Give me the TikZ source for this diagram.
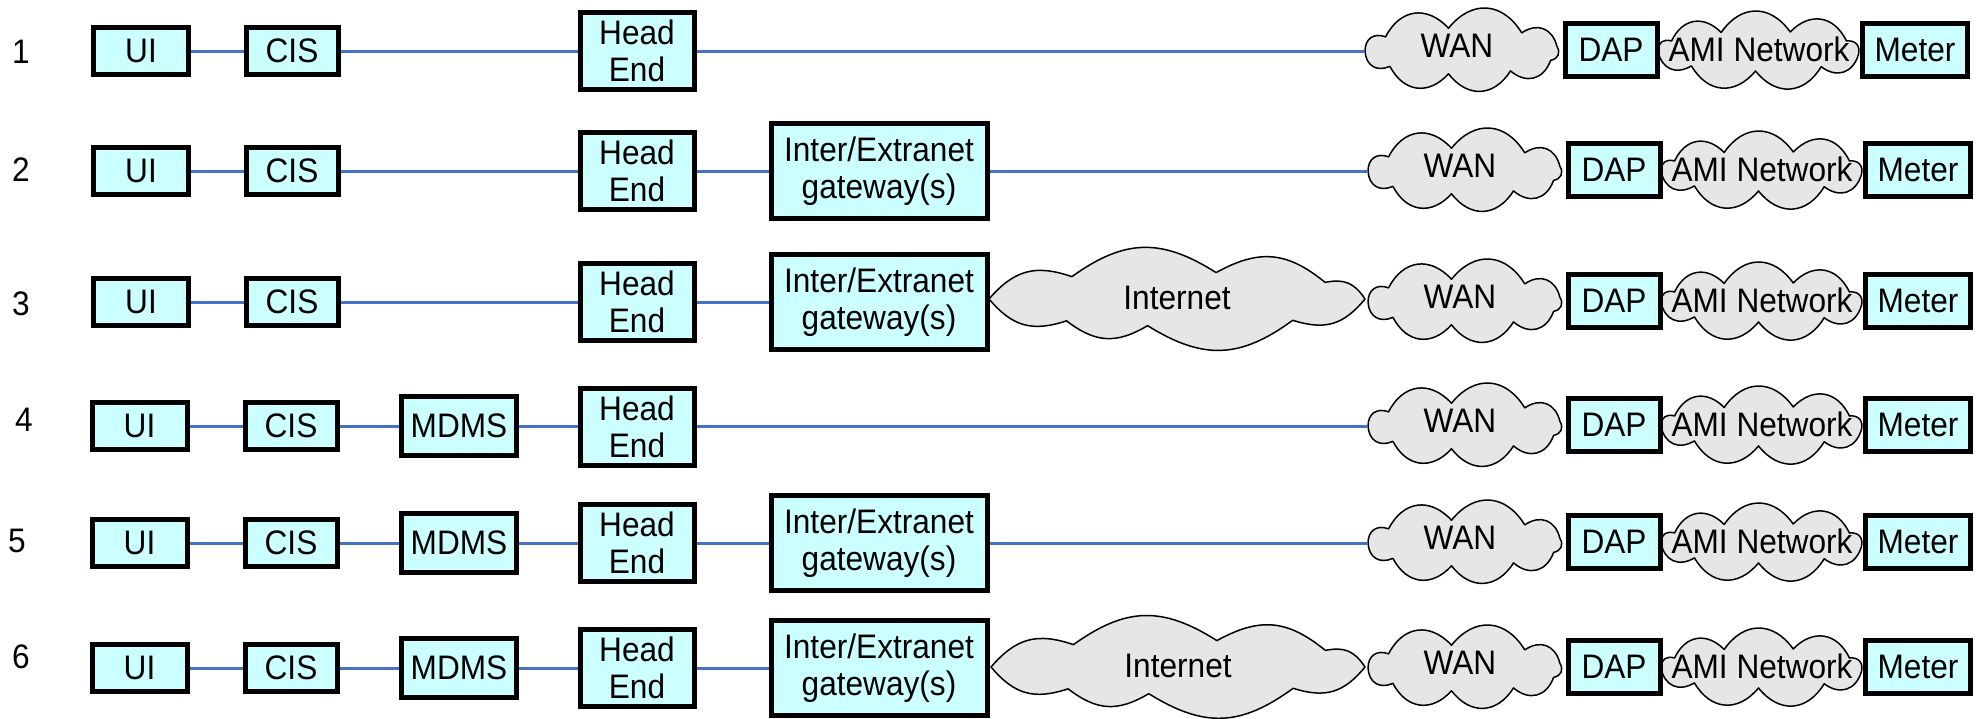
\documentclass[tikz,border=0pt]{standalone}
\usepackage{fontspec}
\setmainfont{Liberation Sans}[FakeStretch=0.93]
\usetikzlibrary{calc}
\definecolor{boxfill}{RGB}{204,255,255}
\definecolor{cloudfill}{RGB}{230,230,230}
\definecolor{linkblue}{RGB}{70,114,196}

% A cloud made of outward lobes between points on an ellipse.
% #1 name prefix, #2/#3 centre, #4/#5 half axes, #6 closed angle list,
% #7 number of lobes, #8 control distance (fraction of chord), #9 control angle
\newcommand\puffcloud[9]{%
  \foreach \t [count=\i] in {#6}
    \coordinate (#1-\i) at ({#2+#4*cos(\t)},{#3+#5*sin(\t)});
  \filldraw[cloudline] (#1-1)
    \foreach \i [count=\j from 2] in {1,...,#7} {
      .. controls ($(#1-\i)!#8!-#9:(#1-\j)$) and ($(#1-\j)!#8!#9:(#1-\i)$) .. (#1-\j)
    } -- cycle;
}

\begin{document}
\begin{tikzpicture}[x=1pt,y=1pt,
  every node/.style={font=\fontsize{34}{37}\selectfont},
  blk/.style={draw=black, line width=5pt, fill=boxfill, inner sep=0pt, align=center},
  uibox/.style={blk, minimum width=95pt, minimum height=47pt},
  cisbox/.style={blk, minimum width=92pt, minimum height=47pt},
  mdmsbox/.style={blk, minimum width=115pt, minimum height=59pt},
  hebox/.style={blk, minimum width=114pt, minimum height=77pt},
  gwbox/.style={blk, minimum width=216pt, minimum height=95pt},
  dapbox/.style={blk, minimum width=92pt, minimum height=53pt},
  meterbox/.style={blk, minimum width=105pt, minimum height=53pt},
  cloudline/.style={draw=black, line width=1.5pt, fill=cloudfill, line join=round},
  cloudtext/.style={inner sep=0pt},
  rowlabel/.style={inner sep=0pt},
  link/.style={draw=linkblue, line width=3pt}
]
\useasboundingbox (0,0) rectangle (1984,-718);

% access side shared by every row: WAN, DAP, AMI network, meter
\foreach \r/\y/\dx in {1/-51/-3,2/-171/0,3/-302/0,4/-426/0,5/-543/0,6/-668/0}{
  \puffcloud{amic\r}{1762+\dx}{\y}{101}{20}{180,228,268,308,350,30,72,112,150,180}{9}{0.5}{55}
  \node[cloudtext] (ami\r) at (1762+\dx,\y+2) {AMI Network};
  \node[dapbox] (dap\r) at (1614+\dx,\y+1) {DAP};
  \node[meterbox] (met\r) at (1918+\dx,\y+1) {Meter};
  \puffcloud{wanc\r}{1465+\dx}{\y}{97}{23}{180,222,262,300,336,12,52,98,142,180}{9}{0.5}{55}
  \node[cloudtext] (wan\r) at (1460+\dx,\y+5) {WAN};
}

% row numbers
\node[rowlabel] (n1) at (21,-52) {1};
\node[rowlabel] (n2) at (21,-170) {2};
\node[rowlabel] (n3) at (21,-304) {3};
\node[rowlabel] (n4) at (24,-420) {4};
\node[rowlabel] (n5) at (17,-541) {5};
\node[rowlabel] (n6) at (21,-657) {6};

% row 1
\node[uibox] (ui1) at (141,-51) {UI};
\node[cisbox] (cis1) at (292,-51) {CIS};
\node[hebox] (he1) at (637,-51) {Head\\End};
\draw[link] (ui1) -- (cis1);
\draw[link] (cis1) -- (he1);
\draw[link] (he1) -- (wanc1-1);

% row 2
\node[uibox] (ui2) at (141,-171) {UI};
\node[cisbox] (cis2) at (292,-171) {CIS};
\node[hebox] (he2) at (637,-171) {Head\\End};
\node[gwbox] (gw2) at (879,-171) {Inter/Extranet\\gateway(s)};
\draw[link] (ui2) -- (cis2);
\draw[link] (cis2) -- (he2);
\draw[link] (he2) -- (gw2);
\draw[link] (gw2) -- (wanc2-1);

% row 3
\node[uibox] (ui3) at (141,-302) {UI};
\node[cisbox] (cis3) at (292,-302) {CIS};
\node[hebox] (he3) at (637,-302) {Head\\End};
\node[gwbox] (gw3) at (879,-302) {Inter/Extranet\\gateway(s)};
\puffcloud{netc3}{1177}{-299}{188}{27}{180,234,261,308,360,38,78,124,180}{8}{0.45}{34}
\node[cloudtext] (net3) at (1177,-298) {Internet};
\draw[link] (ui3) -- (cis3);
\draw[link] (cis3) -- (he3);
\draw[link] (he3) -- (gw3);

% row 4
\node[uibox] (ui4) at (139.5,-426) {UI};
\node[cisbox] (cis4) at (291,-426) {CIS};
\node[mdmsbox] (mdms4) at (459,-426) {MDMS};
\node[hebox] (he4) at (637,-427) {Head\\End};
\draw[link] (ui4) -- (cis4);
\draw[link] (cis4) -- (mdms4);
\draw[link] (mdms4) -- (he4.west |- mdms4);
\draw[link] (he4.east |- mdms4) -- (wanc4-1);

% row 5
\node[uibox] (ui5) at (139.5,-543) {UI};
\node[cisbox] (cis5) at (291,-543) {CIS};
\node[mdmsbox] (mdms5) at (459,-543) {MDMS};
\node[hebox] (he5) at (637,-543) {Head\\End};
\node[gwbox] (gw5) at (879,-543) {Inter/Extranet\\gateway(s)};
\draw[link] (ui5) -- (cis5);
\draw[link] (cis5) -- (mdms5);
\draw[link] (mdms5) -- (he5);
\draw[link] (he5) -- (gw5);
\draw[link] (gw5) -- (wanc5-1);

% row 6
\node[uibox] (ui6) at (139.5,-668) {UI};
\node[cisbox] (cis6) at (291,-668) {CIS};
\node[mdmsbox] (mdms6) at (459,-668) {MDMS};
\node[hebox] (he6) at (637,-668) {Head\\End};
\node[gwbox] (gw6) at (879,-668) {Inter/Extranet\\gateway(s)};
\puffcloud{netc6}{1178}{-667}{187}{27}{180,234,261,308,360,38,78,124,180}{8}{0.45}{34}
\node[cloudtext] (net6) at (1178,-666) {Internet};
\draw[link] (ui6) -- (cis6);
\draw[link] (cis6) -- (mdms6);
\draw[link] (mdms6) -- (he6);
\draw[link] (he6) -- (gw6);
\end{tikzpicture}
\end{document}
